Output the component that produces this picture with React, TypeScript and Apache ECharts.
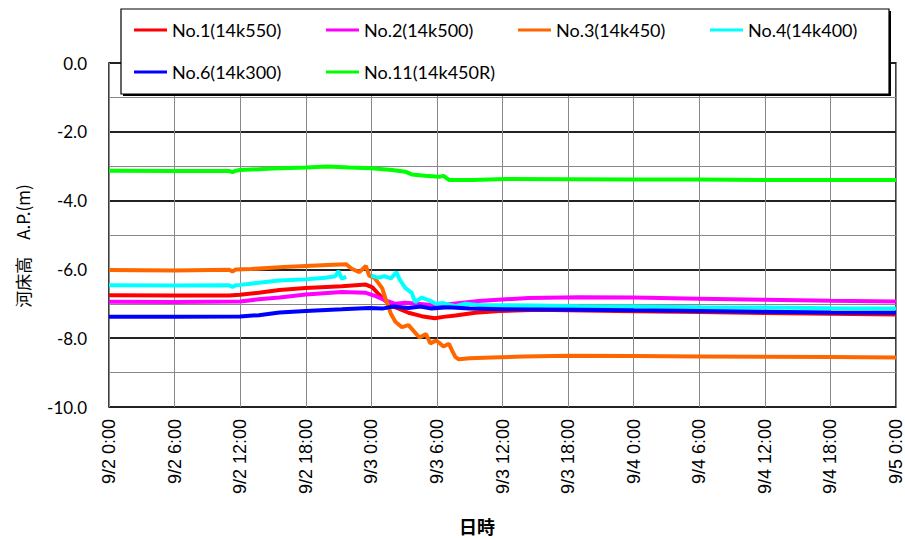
import React, { useEffect, useRef } from "react";
import * as echarts from "echarts";

// Gauge names and line colours
const seriesNames = [
  "No.1(14k550)",
  "No.2(14k500)",
  "No.3(14k450)",
  "No.4(14k400)",
  "No.6(14k300)",
  "No.11(14k450R)",
];
const seriesColors = ["#ff0000", "#ff00ff", "#ff6600", "#00ffff", "#0000ff", "#00ff00"];

// Readings: [hours elapsed since 9/2 0:00, bed level A.P. (m)]
const no1: [number, number][] = [
  [0, -6.75], [6, -6.76], [11, -6.76], [12, -6.74], [13.7, -6.68], [15.6, -6.6],
  [18, -6.54], [21.3, -6.49], [23.5, -6.44], [24.1, -6.52], [24.7, -6.73], [25.3, -6.92],
  [25.9, -7.07], [26.5, -7.14], [27.4, -7.26], [28.6, -7.36], [29.8, -7.42], [30.6, -7.38],
  [31.7, -7.34], [33.5, -7.26], [35.7, -7.21], [39.3, -7.17], [42, -7.19], [48, -7.22],
  [54, -7.24], [60, -7.27], [66, -7.29], [72, -7.31],
];
const no2: [number, number][] = [
  [0, -6.94], [6, -6.95], [12, -6.93], [13.7, -6.87], [15.6, -6.82], [18, -6.73],
  [21.3, -6.66], [23.5, -6.68], [24.4, -6.78], [25.3, -6.9], [26.2, -7.0], [27.1, -6.97],
  [29.3, -7.03], [30, -7.05], [31.7, -6.99], [33.8, -6.92], [36.3, -6.87], [38.4, -6.83],
  [43, -6.81], [48, -6.82], [54, -6.85], [60, -6.88], [66, -6.91], [72, -6.93],
];
const no3: [number, number][] = [
  [0, -6.02], [6, -6.03], [11, -6.01], [11.3, -6.06], [11.6, -6.0], [13, -5.99],
  [14.5, -5.96], [16, -5.93], [18, -5.9], [20, -5.87], [21.7, -5.85], [22.2, -5.98],
  [22.9, -6.08], [23.5, -5.9], [23.8, -6.18], [24.3, -6.25], [24.7, -6.42], [25, -6.55],
  [25.3, -6.85], [25.8, -7.3], [26.2, -7.52], [26.8, -7.68], [27.4, -7.62], [27.9, -7.8],
  [28.4, -7.98], [29, -7.88], [29.4, -8.15], [29.9, -8.07], [30.2, -8.13], [30.6, -8.24],
  [31.1, -8.16], [31.4, -8.37], [31.7, -8.55], [32, -8.61], [33, -8.58], [35, -8.56],
  [38, -8.53], [42, -8.51], [48, -8.52], [54, -8.53], [60, -8.54], [66, -8.55], [72, -8.56],
];
const no4: [number, number | null][] = [
  [0, -6.46], [6, -6.47], [11, -6.46], [11.3, -6.51], [11.6, -6.46], [12, -6.45],
  [13.7, -6.39], [15.6, -6.32], [18, -6.29], [19.8, -6.24], [20.7, -6.2], [21, -6.05],
  [21.3, -6.27], [21.7, -6.22], [22.8, null], [24, -6.18], [24.6, -6.24], [25.2, -6.2],
  [25.8, -6.26], [26.3, -6.08], [26.6, -6.3], [27.1, -6.54], [27.7, -6.68], [28, -6.95],
  [28.6, -6.82], [29.3, -6.9], [29.9, -7.0], [30.6, -6.98], [31.7, -7.07], [32.6, -7.0],
  [34, -7.04], [39, -7.05], [43, -7.07], [48, -7.08], [54, -7.1], [60, -7.11], [66, -7.13],
  [72, -7.14],
];
const no6: [number, number][] = [
  [0, -7.38], [6, -7.38], [12, -7.37], [13.7, -7.33], [15.6, -7.25], [18, -7.21],
  [21.3, -7.16], [23.8, -7.12], [25, -7.14], [26, -7.08], [27.4, -7.12], [28.5, -7.08],
  [29.5, -7.14], [31, -7.1], [33, -7.14], [36, -7.16], [43, -7.17], [48, -7.19],
  [54, -7.21], [60, -7.23], [66, -7.25], [72, -7.26],
];
const no11: [number, number][] = [
  [0, -3.13], [6, -3.14], [11, -3.14], [11.3, -3.17], [11.6, -3.13], [12, -3.11],
  [15, -3.07], [18, -3.04], [20, -3.01], [22, -3.04], [24, -3.06], [25.9, -3.11],
  [27.1, -3.16], [27.7, -3.24], [28.9, -3.28], [30.2, -3.31], [30.6, -3.28], [31.1, -3.4],
  [33.2, -3.4], [36.3, -3.37], [42, -3.38], [48, -3.39], [54, -3.39], [60, -3.4],
  [66, -3.4], [72, -3.4],
];
const seriesData = [no1, no2, no3, no4, no6, no11];

// Axis ranges
const yMin = -10;
const yMax = 0;
const yStep = 2;
const hourMax = 72;
const hourStep = 6;
const firstDay = 2;

const hourLabel = (h: number) => {
  const day = firstDay + Math.floor(h / 24);
  return `9/${day} ${h % 24}:00`;
};

// Legend slots (left, top) arranged in a 4-column grid
const legendSlots: [number, number][] = [
  [134, 20], [326, 20], [518, 20], [710, 20], [134, 62], [326, 62],
];

export default function App() {
  const ref = useRef<HTMLDivElement>(null);

  useEffect(() => {
    if (!ref.current) return;
    const chart = echarts.init(ref.current, undefined, { renderer: "svg" });

    const option: echarts.EChartsOption = {
      animation: false,
      backgroundColor: "#fff",
      grid: {
        left: 109,
        right: 8,
        top: 63,
        bottom: 133,
        show: true,
        borderColor: "#000",
        borderWidth: 1.5,
        backgroundColor: "transparent",
      },
      xAxis: {
        type: "value",
        min: 0,
        max: hourMax,
        interval: hourStep,
        axisLine: { show: false },
        axisTick: { show: false },
        axisLabel: {
          rotate: 90,
          formatter: (v: number) => hourLabel(v),
          fontFamily: "Liberation Sans",
          fontSize: 18,
          color: "#000",
          margin: 12,
        },
        splitLine: { show: true, lineStyle: { color: "#888", width: 1 } },
      },
      yAxis: {
        type: "value",
        min: yMin,
        max: yMax,
        interval: yStep,
        axisLine: { show: false },
        axisTick: { show: false },
        axisLabel: {
          formatter: (v: number) => v.toFixed(1),
          fontFamily: "Lato",
          fontSize: 17,
          color: "#000",
          margin: 22,
        },
        splitLine: { show: true, lineStyle: { color: "#222", width: 2 } },
        minorTick: { show: false, splitNumber: 2 },
        minorSplitLine: { show: true, lineStyle: { color: "#888", width: 1 } },
      },
      legend: seriesNames.map((name, i) => ({
        data: [name],
        left: legendSlots[i][0],
        top: legendSlots[i][1],
        padding: 0,
        icon: "rect",
        itemWidth: 33,
        itemHeight: 3,
        selectedMode: false,
        z: 20,
        textStyle: {
          fontFamily: "Lato",
          fontSize: 18,
          color: "#000",
          lineHeight: 20,
        },
      })),
      graphic: [
        {
          type: "rect",
          z: 10,
          shape: { x: 123, y: 11, width: 768, height: 85 },
          style: { fill: "#000" },
        },
        {
          type: "rect",
          z: 11,
          shape: { x: 121, y: 9, width: 768, height: 85 },
          style: { fill: "#fff", stroke: "#000", lineWidth: 1.2 },
        },
        {
          type: "text",
          x: 22,
          y: 246,
          rotation: Math.PI / 2,
          z: 12,
          style: {
            text: "河床高　A.P.(m)",
            align: "center",
            verticalAlign: "middle",
            fontFamily: "Noto Sans CJK JP",
            fontSize: 17,
            fill: "#000",
          },
        },
        {
          type: "text",
          x: 477,
          y: 526,
          z: 12,
          style: {
            text: "日時",
            align: "center",
            verticalAlign: "middle",
            fontFamily: "Noto Sans CJK JP",
            fontWeight: "bold",
            fontSize: 18,
            fill: "#000",
          },
        },
      ],
      series: seriesNames.map((name, i) => ({
        name,
        type: "line",
        data: seriesData[i],
        showSymbol: false,
        symbol: "none",
        connectNulls: false,
        color: seriesColors[i],
        lineStyle: { color: seriesColors[i], width: 4 },
        z: 2 + i * 0.01,
      })),
    };

    chart.setOption(option);
    return () => chart.dispose();
  }, []);

  return (
    <div
      ref={ref}
      style={{ position: "absolute", left: 0, top: 0, width: 905, height: 540 }}
    />
  );
}
